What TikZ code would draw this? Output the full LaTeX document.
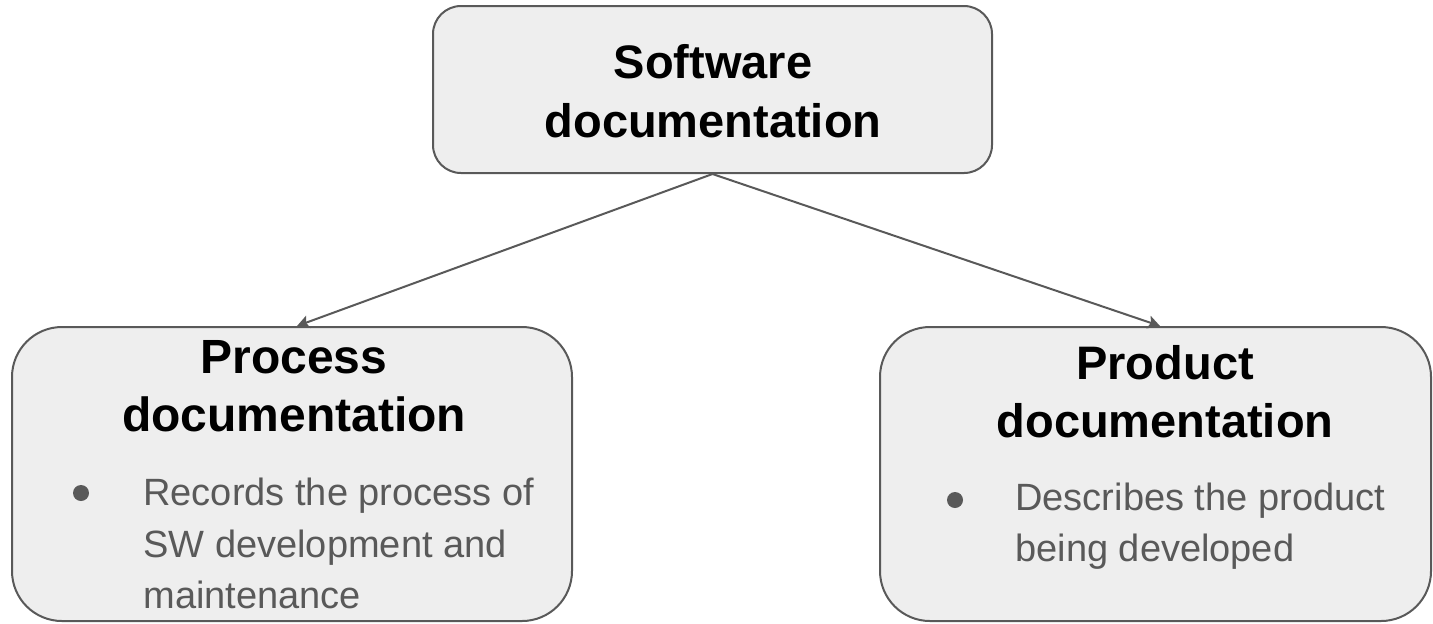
\documentclass[tikz,border=0pt]{standalone}
\usepackage{fontspec}
\setmainfont{Liberation Sans}
\usetikzlibrary{calc,arrows.meta}
\definecolor{boxfill}{HTML}{EEEEEE}
\definecolor{boxline}{HTML}{595959}
\definecolor{bodytext}{HTML}{595959}
\tikzset{
  box/.style={draw=boxline, fill=boxfill, line width=1pt, rectangle, inner sep=0pt},
  head/.style={font=\fontsize{23.5}{29}\selectfont\bfseries, text=black, anchor=base, inner sep=0pt},
  bighead/.style={head, font=\fontsize{24}{29}\selectfont\bfseries},
  body/.style={font=\fontsize{19}{25.5}\selectfont, text=bodytext, anchor=base west, inner sep=0pt},
  conn/.style={draw=boxline, line width=1pt, -{Stealth[length=6pt,width=6.5pt,inset=1.2pt]}},
  bulletdot/.style={fill=bodytext}
}
\begin{document}
\begin{tikzpicture}[x=0.5pt,y=-0.5pt]
\useasboundingbox (0,0) rectangle (1433,623);
% boxes
\node[box, rounded corners=14pt, minimum width=279.5pt, minimum height=83.5pt] (sw) at (712.5,89.5) {};
\node[box, rounded corners=25pt, minimum width=280pt, minimum height=147pt] (proc) at (292,474) {};
\node[box, rounded corners=25pt, minimum width=275.5pt, minimum height=147pt] (prod) at (1155.5,474) {};
% connectors
\draw[conn] (sw.south) -- ($(proc.north)+(5,0)$);
\draw[conn] (sw.south) -- ($(prod.north)+(4.5,0)$);
% top heading
\node[head] (sw1) at (713,78) {Software};
\node[head] (sw2) at (713,137) {documentation};
% process
\node[bighead] (p1) at (294,373) {Process};
\node[bighead] (p2) at (294,431) {documentation};
\fill[bulletdot] (81,493) circle (4pt);
\node[body] (pb1) at (143,505) {Records the process of};
\node[body] (pb2) at (143,557) {SW development and};
\node[body] (pb3) at (143,608) {maintenance};
% product
\node[head] (q1) at (1165,379) {Product};
\node[head] (q2) at (1165,437) {documentation};
\fill[bulletdot] (955,500) circle (4pt);
\node[body] (qb1) at (1015,510) {Describes the product};
\node[body] (qb2) at (1015,561) {being developed};
\end{tikzpicture}
\end{document}
